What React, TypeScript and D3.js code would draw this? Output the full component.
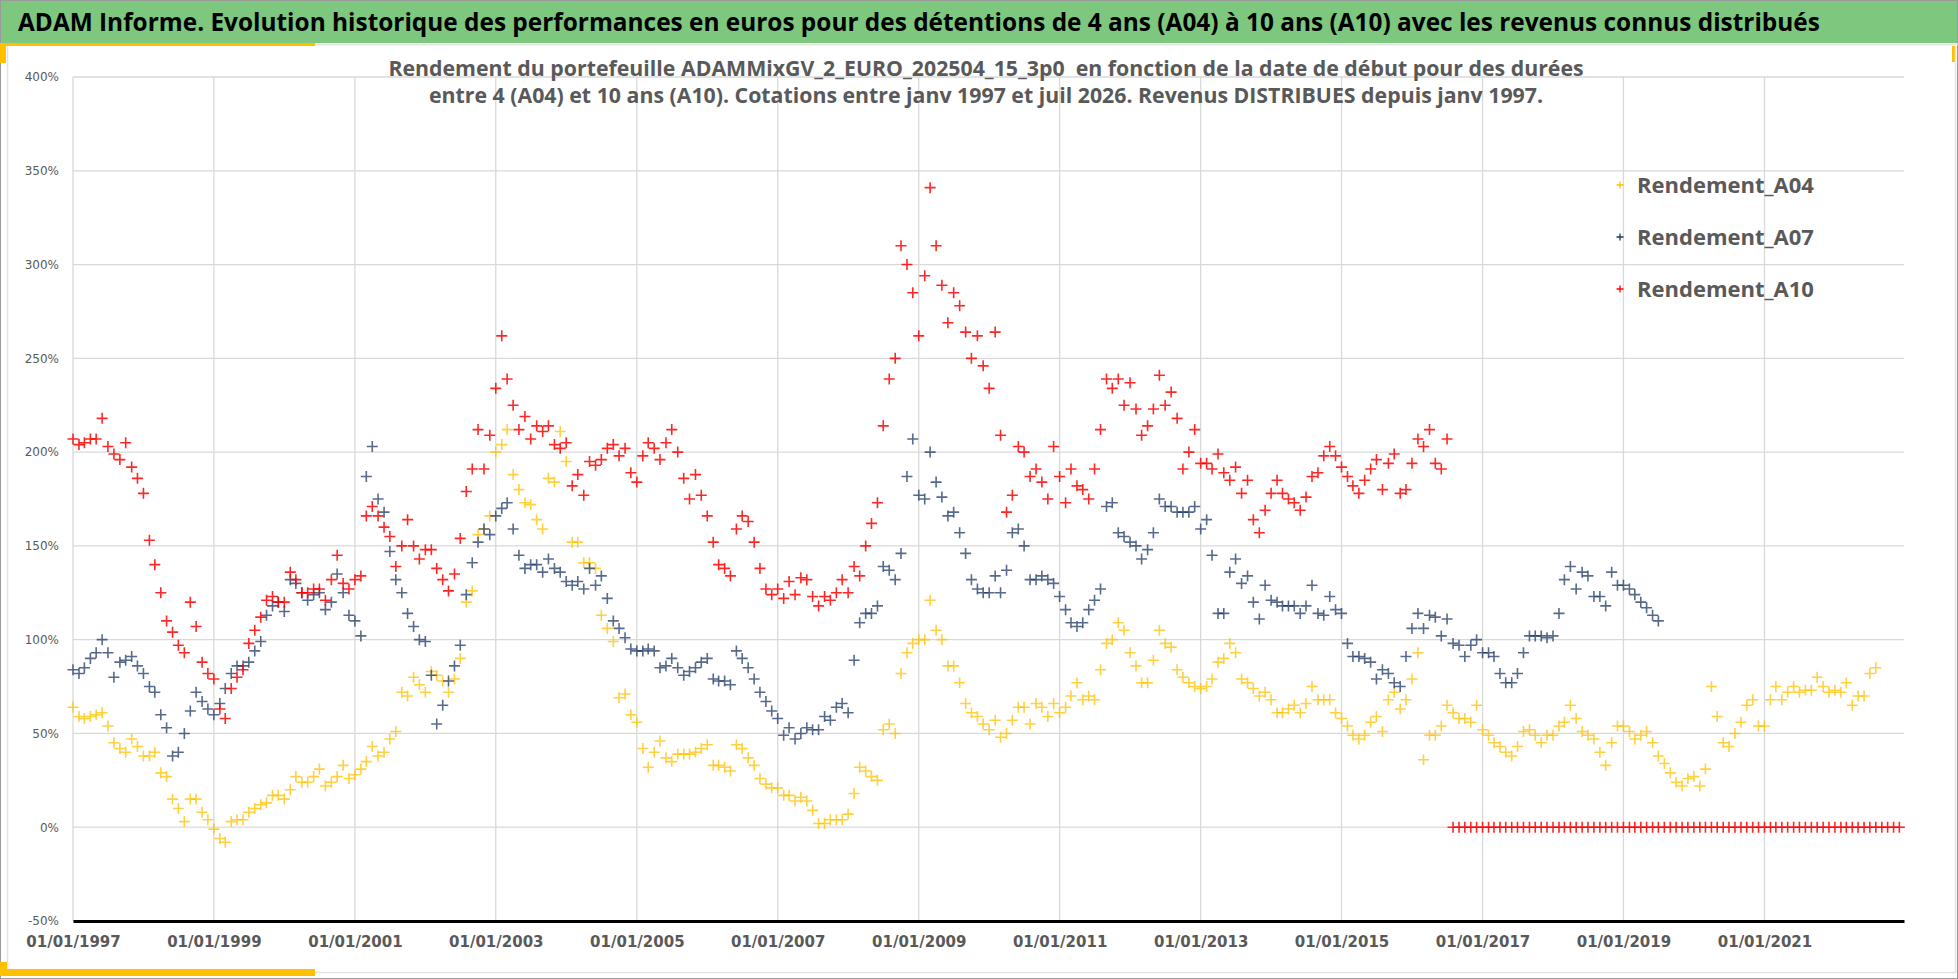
import { useEffect, useRef } from 'react';
import * as d3 from 'd3';

const W = 1958;
const H = 979;

const titleText =
  'ADAM Informe. Evolution historique des performances en euros pour des détentions de 4 ans (A04) à 10 ans (A10) avec les revenus connus distribués';
const subtitleLines = [
  'Rendement du portefeuille ADAMMixGV_2_EURO_202504_15_3p0  en fonction de la date de début pour des durées',
  'entre 4 (A04) et 10 ans (A10). Cotations entre janv 1997 et juil 2026. Revenus DISTRIBUES depuis janv 1997.',
];

const xTickLabels = [
  '01/01/1997', '01/01/1999', '01/01/2001', '01/01/2003', '01/01/2005', '01/01/2007', '01/01/2009',
  '01/01/2011', '01/01/2013', '01/01/2015', '01/01/2017', '01/01/2019', '01/01/2021',
];
const xDomainLabels = ['01/01/1997', '25/12/2022'];
const yTicks = [-50, 0, 50, 100, 150, 200, 250, 300, 350, 400];

// monthly values (%) starting january 1997
const a04 = [
  64, 59, 58, 59, 60, 61, 54, 45, 42, 40, 47, 43, // 1997
  38, 38, 40, 29, 27, 15, 10, 3, 15, 15, 8, 4, // 1998
  -1, -6, -8, 3, 4, 4, 8, 10, 12, 13, 17, 17, // 1999
  15, 20, 27, 24, 24, 27, 31, 22, 24, 27, 33, 26, // 2000
  28, 31, 35, 43, 38, 40, 47, 51, 72, 70, 80, 76, // 2001
  72, 83, 81, 78, 72, 79, 90, 120, 126, 156, 159, 166, // 2002
  200, 204, 212, 188, 180, 173, 172, 164, 159, 186, 184, 211, // 2003
  195, 152, 152, 141, 141, 138, 113, 106, 99, 69, 71, 60, // 2004
  56, 42, 32, 40, 46, 37, 35, 39, 39, 39, 40, 42, // 2005
  44, 33, 33, 32, 30, 44, 42, 37, 33, 26, 23, 21, // 2006
  21, 17, 17, 14, 16, 14, 9, 2, 2, 4, 4, 4, // 2007
  7, 18, 32, 30, 27, 25, 52, 55, 50, 82, 93, 98, // 2008
  100, 100, 121, 105, 100, 86, 86, 77, 66, 61, 59, 55, // 2009
  52, 57, 48, 50, 57, 64, 64, 55, 66, 64, 59, 66, // 2010
  61, 64, 70, 77, 68, 70, 68, 84, 98, 100, 109, 105, // 2011
  93, 86, 77, 77, 89, 105, 98, 96, 84, 80, 77, 75, // 2012
  74, 75, 79, 88, 90, 98, 93, 79, 77, 74, 70, 72, // 2013
  68, 61, 61, 63, 65, 61, 66, 75, 68, 68, 68, 61, // 2014
  58, 54, 49, 47, 49, 56, 59, 51, 68, 72, 63, 68, // 2015
  79, 93, 36, 49, 49, 54, 65, 61, 58, 58, 56, 65, // 2016
  52, 49, 45, 43, 40, 38, 43, 51, 52, 49, 45, 49, // 2017
  49, 54, 56, 65, 58, 51, 49, 47, 40, 33, 45, 54, // 2018
  54, 51, 47, 49, 51, 45, 38, 34, 29, 24, 22, 26, // 2019
  27, 22, 31, 75, 59, 45, 43, 50, 56, 65, 68, 54, // 2020
  54, 68, 75, 68, 72, 75, 72, 73, 73, 80, 75, 72, // 2021
  73, 72, 77, 65, 70, 70, 82, 85, // 2022
];

const a07 = [
  84, 82, 85, 90, 93, 100, 93, 80, 88, 89, 91, 86, // 1997
  82, 75, 72, 60, 53, 38, 40, 50, 62, 72, 67, 63, // 1998
  60, 66, 74, 82, 86, 86, 88, 94, 99, 113, 118, 120, // 1999
  115, 132, 130, 125, 121, 124, 125, 116, 120, 135, 125, 113, // 2000
  110, 102, 187, 203, 175, 168, 147, 132, 125, 114, 107, 100, // 2001
  99, 81, 55, 65, 78, 86, 97, 124, 141, 152, 159, 156, // 2002
  166, 170, 173, 159, 145, 138, 140, 140, 136, 143, 138, 136, // 2003
  131, 129, 131, 127, 138, 129, 134, 122, 110, 106, 101, 95, // 2004
  94, 94, 95, 94, 85, 86, 90, 85, 81, 83, 85, 88, // 2005
  90, 79, 78, 78, 76, 94, 90, 85, 79, 72, 67, 62, // 2006
  58, 49, 53, 47, 50, 53, 52, 52, 59, 57, 64, 66, // 2007
  61, 89, 109, 114, 114, 118, 139, 137, 132, 146, 187, 207, // 2008
  177, 175, 200, 184, 176, 166, 168, 157, 146, 132, 127, 125, // 2009
  125, 134, 125, 137, 157, 159, 150, 132, 132, 134, 132, 130, // 2010
  123, 116, 109, 107, 109, 116, 121, 127, 171, 173, 157, 155, // 2011
  152, 150, 143, 148, 157, 175, 171, 171, 168, 168, 168, 171, // 2012
  159, 164, 145, 114, 114, 136, 143, 130, 134, 120, 111, 129, // 2013
  121, 120, 118, 118, 118, 114, 118, 129, 114, 113, 123, 116, // 2014
  114, 98, 91, 91, 90, 88, 79, 84, 82, 77, 75, 91, // 2015
  106, 114, 106, 113, 112, 102, 111, 98, 97, 91, 97, 100, // 2016
  93, 93, 91, 82, 77, 77, 82, 93, 102, 102, 102, 101, // 2017
  102, 114, 132, 139, 127, 136, 134, 123, 123, 118, 136, 129, // 2018
  129, 127, 124, 120, 117, 113, 110, // 2019
];

const a10 = [
  207, 204, 205, 207, 207, 218, 203, 199, 196, 205, 192, 186, // 1997
  178, 153, 140, 125, 110, 104, 97, 93, 120, 107, 88, 82, // 1998
  79, 63, 58, 74, 80, 84, 98, 105, 112, 121, 123, 120, // 1999
  120, 136, 132, 125, 125, 127, 127, 121, 132, 145, 130, 127, // 2000
  132, 134, 166, 171, 166, 160, 155, 139, 150, 164, 150, 143, // 2001
  148, 148, 138, 132, 126, 135, 154, 179, 191, 212, 191, 209, // 2002
  234, 262, 239, 225, 212, 219, 207, 214, 211, 214, 204, 202, // 2003
  205, 182, 188, 177, 195, 193, 196, 202, 204, 198, 202, 189, // 2004
  184, 198, 205, 202, 196, 205, 212, 200, 186, 175, 188, 177, // 2005
  166, 152, 140, 138, 134, 159, 166, 163, 152, 138, 127, 124, // 2006
  127, 122, 131, 124, 133, 132, 123, 118, 123, 121, 125, 132, // 2007
  125, 139, 134, 150, 162, 173, 214, 239, 250, 310, 300, 285, // 2008
  262, 294, 341, 310, 289, 269, 285, 278, 264, 250, 262, 246, // 2009
  234, 264, 209, 168, 177, 203, 200, 187, 191, 184, 175, 203, // 2010
  187, 173, 191, 182, 180, 175, 191, 212, 239, 234, 239, 225, // 2011
  237, 223, 209, 214, 223, 241, 225, 232, 218, 191, 200, 212, // 2012
  194, 194, 191, 199, 189, 185, 192, 178, 185, 164, 157, 169, // 2013
  178, 185, 178, 175, 173, 169, 176, 187, 189, 198, 203, 198, // 2014
  192, 187, 182, 178, 185, 191, 196, 180, 194, 199, 178, 180, // 2015
  194, 207, 203, 212, 194, 191, 207, 0, 0, 0, 0, 0, // 2016
  0, 0, 0, 0, 0, 0, 0, 0, 0, 0, 0, 0, // 2017
  0, 0, 0, 0, 0, 0, 0, 0, 0, 0, 0, 0, // 2018
  0, 0, 0, 0, 0, 0, 0, 0, 0, 0, 0, 0, // 2019
  0, 0, 0, 0, 0, 0, 0, 0, 0, 0, 0, 0, // 2020
  0, 0, 0, 0, 0, 0, 0, 0, 0, 0, 0, 0, // 2021
  0, 0, 0, 0, 0, 0, 0, 0, 0, 0, 0, 0, // 2022
];

const seriesNames = ['Rendement_A04', 'Rendement_A07', 'Rendement_A10'];
const seriesColors = ['#FFC000', '#1F3864', '#FF0000'];

export default function App() {
  const svgRef = useRef<SVGSVGElement>(null);

  useEffect(() => {
    if (!svgRef.current) return;
    document.body.style.margin = '0';

    const svg = d3.select(svgRef.current);
    svg.selectAll('*').remove();
    svg.attr('width', W).attr('height', H).attr('viewBox', `0 0 ${W} ${H}`);

    const plot = { left: 73, right: 1904, top: 77, bottom: 921 };
    const parse = d3.timeParse('%d/%m/%Y');
    const x = d3.scaleTime()
      .domain(xDomainLabels.map((s) => parse(s) as Date))
      .range([plot.left, plot.right]);
    const y = d3.scaleLinear().domain([-50, 400]).range([plot.bottom, plot.top]);
    const monthDate = (i: number) => new Date(1997, i, 1);

    // frame and decorations
    svg.append('rect').attr('x', 0.5).attr('y', 0.5).attr('width', W - 1).attr('height', H - 1)
      .attr('fill', '#fff').attr('stroke', '#9a9a9a');
    svg.append('rect').attr('x', 1).attr('y', 1).attr('width', W - 2).attr('height', 42).attr('fill', '#7EC77E');
    svg.append('line').attr('x1', 0).attr('x2', W).attr('y1', 44.5).attr('y2', 44.5).attr('stroke', '#e3e3e3').attr('stroke-width', 2);
    svg.append('rect').attr('x', 0).attr('y', 43).attr('width', 315).attr('height', 3).attr('fill', '#FFC000');
    svg.append('rect').attr('x', 0).attr('y', 43).attr('width', 6).attr('height', 20).attr('fill', '#FFC000');
    svg.append('rect').attr('x', 1952).attr('y', 46).attr('width', 4).attr('height', 16).attr('fill', '#FFC000');
    svg.append('path').attr('d', 'M7.5,46V972.5H1955.5V46').attr('fill', 'none').attr('stroke', '#e3e3e3').attr('stroke-width', 1.5);
    svg.append('rect').attr('x', 0).attr('y', 969).attr('width', 315).attr('height', 7).attr('fill', '#FFC000');
    svg.append('rect').attr('x', 0).attr('y', 962).attr('width', 7).attr('height', 14).attr('fill', '#FFC000');

    svg.append('text').attr('x', 18).attr('y', 31)
      .attr('font-family', '"Open Sans", sans-serif').attr('font-weight', 700).attr('font-size', 24.4)
      .attr('fill', '#000').text(titleText);

    // grid
    const ticks = xTickLabels.map((s) => parse(s) as Date);
    const grid = svg.append('g').attr('stroke', '#d9d9d9').attr('stroke-width', 1.3);
    yTicks.forEach((v) => {
      grid.append('line').attr('x1', plot.left).attr('x2', plot.right).attr('y1', y(v)).attr('y2', y(v));
    });
    ticks.forEach((d) => {
      grid.append('line').attr('x1', x(d)).attr('x2', x(d)).attr('y1', plot.top).attr('y2', plot.bottom);
    });

    subtitleLines.forEach((line, i) => {
      svg.append('text').attr('x', 986).attr('y', 76 + i * 27).attr('text-anchor', 'middle')
        .attr('font-family', '"Open Sans", sans-serif').attr('font-weight', 700).attr('font-size', 21.3)
        .attr('fill', '#595959').style('white-space', 'pre').text(line);
    });

    // axes
    const yAxis = svg.append('g').attr('transform', `translate(${plot.left},0)`)
      .call(d3.axisLeft(y).tickValues(yTicks).tickFormat((d) => `${d}%`).tickSize(0).tickPadding(14));
    yAxis.select('.domain').remove();
    yAxis.selectAll('text').attr('fill', '#595959').attr('font-family', '"DejaVu Sans", sans-serif').attr('font-size', 12);

    // points
    const plus = 'M-5.5,0H5.5M0,-5.5V5.5';
    const series = [a04, a07, a10];
    const opacities = [0.75, 0.75, 0.85];
    series.forEach((values, si) => {
      svg.append('g').selectAll('path').data(values).join('path')
        .attr('d', plus)
        .attr('transform', (v, i) => `translate(${x(monthDate(i))},${y(v)})`)
        .attr('fill', 'none')
        .attr('stroke', seriesColors[si])
        .attr('stroke-width', 1.6)
        .attr('stroke-opacity', opacities[si]);
    });

    const xAxis = svg.append('g').attr('transform', `translate(0,${plot.bottom})`)
      .call(d3.axisBottom(x).tickValues(ticks).tickFormat((d) => d3.timeFormat('%d/%m/%Y')(d as Date)).tickSize(0).tickSizeOuter(0).tickPadding(15));
    xAxis.select('.domain').attr('stroke', '#000').attr('stroke-width', 3);
    xAxis.selectAll('text').attr('fill', '#595959').attr('font-family', '"DejaVu Sans", sans-serif')
      .attr('font-weight', 700).attr('font-size', 15);

    // legend
    seriesNames.forEach((name, i) => {
      const cy = 185 + i * 52;
      svg.append('path').attr('d', 'M-3.5,0H3.5M0,-3.5V3.5').attr('transform', `translate(1620,${cy})`)
        .attr('stroke', seriesColors[i]).attr('stroke-width', 1.3).attr('fill', 'none');
      svg.append('text').attr('x', 1637).attr('y', cy + 8)
        .attr('font-family', '"Open Sans", sans-serif').attr('font-weight', 700).attr('font-size', 22)
        .attr('fill', '#595959').text(name);
    });
  }, []);

  return <svg ref={svgRef} style={{ display: 'block' }} />;
}
